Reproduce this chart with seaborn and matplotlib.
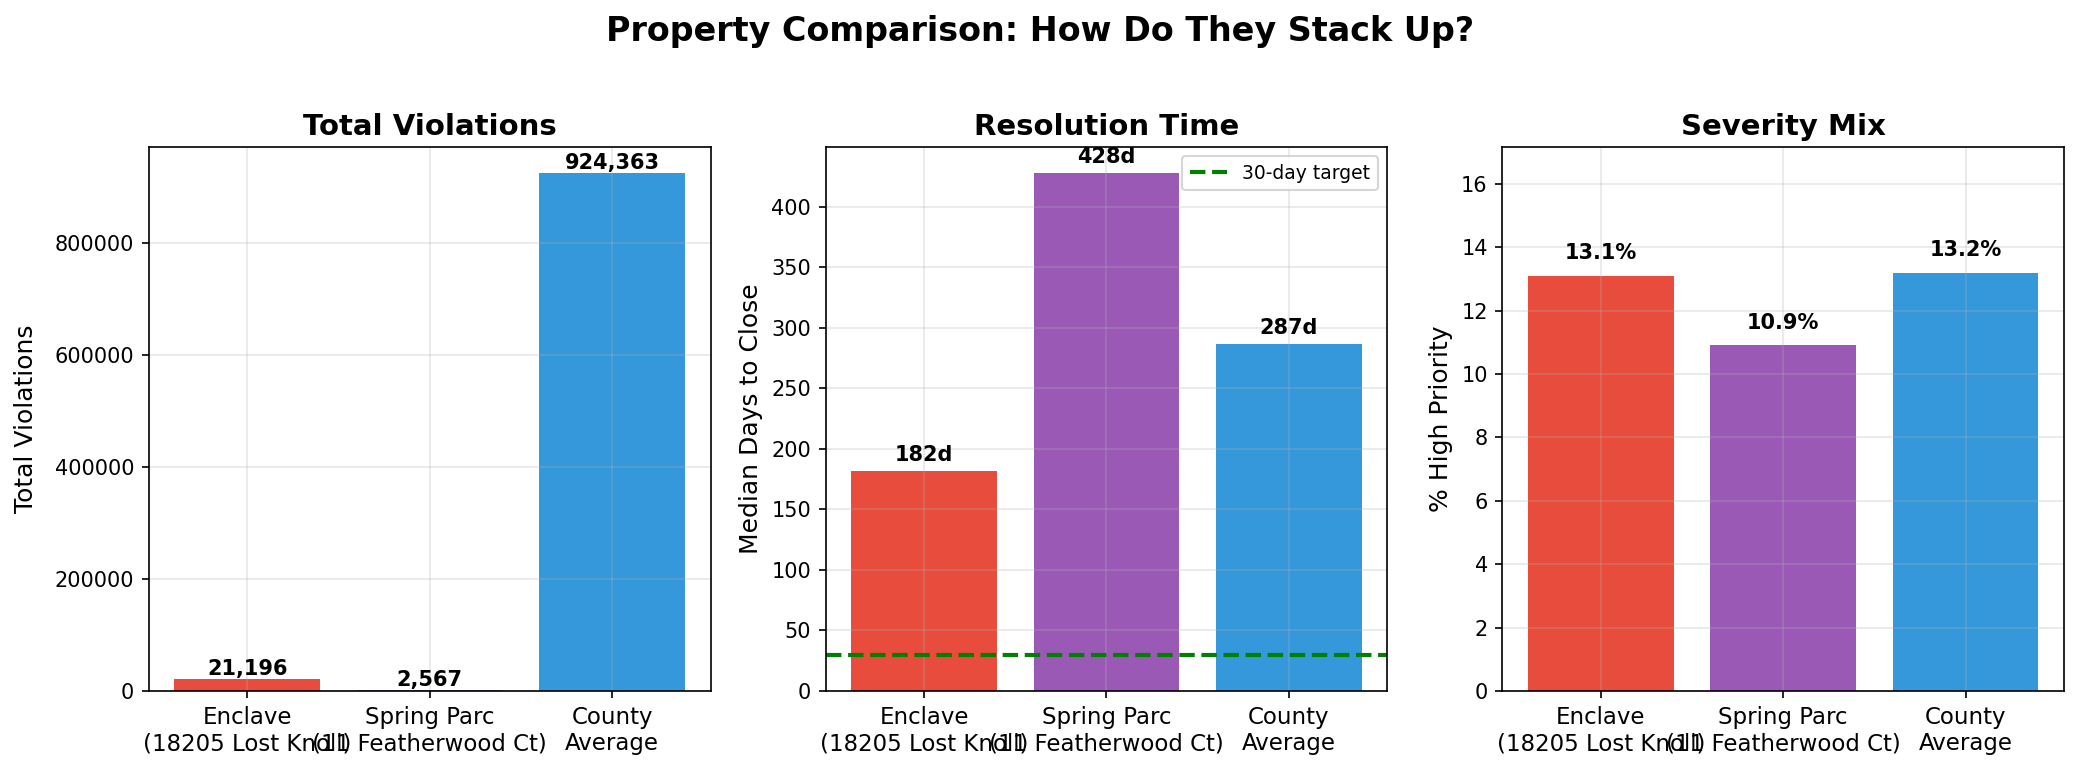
# Comparativo de propriedades: violacoes, tempo de resolucao e severidade

import pandas as pd
import matplotlib
matplotlib.use('Agg')
import matplotlib.pyplot as plt
import seaborn as sns

# dados
locais = ['Enclave\n(18205 Lost Knoll)', 'Spring Parc\n(11 Featherwood Ct)', 'County\nAverage']
total_violacoes = [21196, 2567, 924363]
dias_mediana = [182, 428, 287]
pct_alta_prioridade = [13.1, 10.9, 13.2]
meta_dias = 30
cores = ['#e74c3c', '#9b59b6', '#3498db']

df = pd.DataFrame({
    'local': locais,
    'violacoes': total_violacoes,
    'dias': dias_mediana,
    'pct_alta': pct_alta_prioridade,
})

fig, axes = plt.subplots(1, 3, figsize=(2080 / 150, 771 / 150), dpi=150)
fig.subplots_adjust(left=0.0716, right=0.9923, top=0.8093, bottom=0.1038, wspace=0.205)


def barras(ax, coluna):
    sns.barplot(data=df, x='local', y=coluna, hue='local', palette=cores,
                legend=False, saturation=1, linewidth=0, errorbar=None, ax=ax)
    ax.set_xlabel('')
    ax.grid(True, alpha=0.3)
    ax.autoscale(axis='x')
    ax.tick_params(axis='x', labelsize=11)
    ax.tick_params(axis='y', labelsize=10)


# Painel 1: total de violacoes
ax = axes[0]
barras(ax, 'violacoes')
ax.set_title('Total Violations', fontsize=14, fontweight='bold')
ax.set_ylabel('Total Violations', fontsize=12, labelpad=8)
for i, v in enumerate(total_violacoes):
    ax.text(i, v, f'{v:,}', ha='center', va='bottom', fontsize=10, fontweight='bold')

# Painel 2: tempo de resolucao
ax = axes[1]
barras(ax, 'dias')
ax.axhline(meta_dias, color='green', linestyle='--', linewidth=2, label='30-day target')
ax.set_title('Resolution Time', fontsize=14, fontweight='bold')
ax.set_ylabel('Median Days to Close', fontsize=12)
for i, v in enumerate(dias_mediana):
    ax.text(i, v + 5, f'{v}d', ha='center', va='bottom', fontsize=10, fontweight='bold')
ax.legend(loc='upper right', fontsize=9)

# Painel 3: mix de severidade
ax = axes[2]
barras(ax, 'pct_alta')
ax.set_ylim(0, max(pct_alta_prioridade) * 1.3)
ax.set_title('Severity Mix', fontsize=14, fontweight='bold')
ax.set_ylabel('% High Priority', fontsize=12)
for i, v in enumerate(pct_alta_prioridade):
    ax.text(i, v + 0.4, f'{v}%', ha='center', va='bottom', fontsize=10, fontweight='bold')

fig.suptitle('Property Comparison: How Do They Stack Up?', fontsize=16, fontweight='bold')

plt.savefig('out.png', dpi=150)
